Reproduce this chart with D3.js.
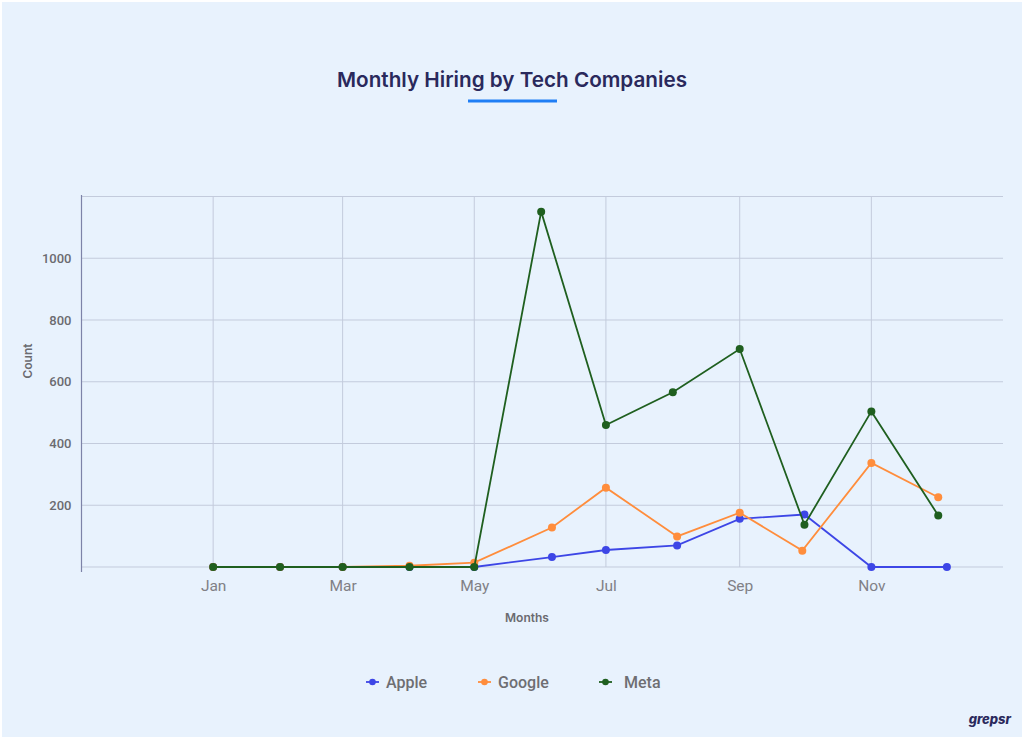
<!DOCTYPE html>
<html>
<head>
<meta charset="utf-8">
<script src="https://cdn.jsdelivr.net/npm/d3@7"></script>
<style>
  html, body { margin: 0; padding: 0; background: #fff; }
  svg { display: block; font-family: Inter, "Noto Sans", sans-serif; }
</style>
</head>
<body>
<svg width="1024" height="739"></svg>
<script>
// dates where each series has a point
var metaDates = ["2024-01-01", "2024-02-01", "2024-03-01", "2024-04-01", "2024-05-01", "2024-06-01",
                 "2024-07-01", "2024-08-01", "2024-09-01", "2024-10-01", "2024-11-01", "2024-12-02"];
var googleDates = ["2024-01-01", "2024-02-01", "2024-03-01", "2024-04-01", "2024-05-01", "2024-06-06",
                   "2024-07-01", "2024-08-03", "2024-09-01", "2024-09-30", "2024-11-01", "2024-12-02"];
var appleDates = ["2024-01-01", "2024-02-01", "2024-03-01", "2024-04-01", "2024-05-01", "2024-06-06",
                  "2024-07-01", "2024-08-03", "2024-09-01", "2024-10-01", "2024-11-01", "2024-12-06"];

var appleValues  = [0, 0, 0, 0, 0, 32, 55, 70, 156, 170, 0, 0];
var googleValues = [0, 0, 0, 4, 14, 128, 257, 99, 176, 53, 337, 226];
var metaValues   = [0, 0, 0, 0, 0, 1151, 460, 566, 706, 137, 504, 167];

var seriesNames = ["Apple", "Google", "Meta"];
var xTickDates = ["2024-01-01", "2024-03-01", "2024-05-01", "2024-07-01", "2024-09-01", "2024-11-01"];
var yTicks = [0, 200, 400, 600, 800, 1000, 1200];

var colors = {Apple: "#3d46e6", Google: "#ff8d3c", Meta: "#1f5f1f"};

var parseDate = d3.timeParse("%Y-%m-%d");

var svg = d3.select("svg"),
    margin = {top: 196.5, right: 21, bottom: 172, left: 81.5},
    width = +svg.attr("width") - margin.left - margin.right,
    height = +svg.attr("height") - margin.top - margin.bottom;

// background
svg.append("rect")
    .attr("x", 2).attr("y", 2)
    .attr("width", 1020).attr("height", 735)
    .attr("fill", "#e8f2fd");

// title + underline
svg.append("text")
    .attr("x", 512).attr("y", 87)
    .attr("text-anchor", "middle")
    .style("font-size", "20.7px")
    .style("font-weight", 600)
    .style("fill", "#2a295c")
    .text("Monthly Hiring by Tech Companies");

svg.append("rect")
    .attr("x", 468).attr("y", 99.5)
    .attr("width", 89).attr("height", 3)
    .attr("fill", "#1f7ef5");

var x = d3.scaleTime()
    .domain([parseDate("2023-11-01"), parseDate("2025-01-01")])
    .range([0, width]);
var y = d3.scaleLinear().domain([0, 1200]).range([height, 0]);

var g = svg.append("g")
    .attr("transform", "translate(" + margin.left + "," + margin.top + ")");

// grid
g.append("g")
    .selectAll("line")
    .data(yTicks)
    .enter().append("line")
    .attr("x1", 0).attr("x2", width)
    .attr("y1", function(d) { return y(d); })
    .attr("y2", function(d) { return y(d); })
    .attr("stroke", "#c3cbdc")
    .attr("stroke-width", 1);

g.append("g")
    .selectAll("line")
    .data(xTickDates.map(parseDate))
    .enter().append("line")
    .attr("x1", function(d) { return x(d); })
    .attr("x2", function(d) { return x(d); })
    .attr("y1", 0).attr("y2", height)
    .attr("stroke", "#c3cbdc")
    .attr("stroke-width", 1);

// x axis labels
var xAxis = d3.axisBottom(x)
    .tickValues(xTickDates.map(parseDate))
    .tickFormat(d3.timeFormat("%b"))
    .tickSize(0)
    .tickPadding(13);

var gx = g.append("g")
    .attr("transform", "translate(0," + height + ")")
    .call(xAxis);
gx.select(".domain").remove();
gx.selectAll("text")
    .style("font-family", "Roboto, 'Noto Sans', sans-serif")
    .style("font-size", "15.5px")
    .style("fill", "#808086");

// y axis
var yAxis = d3.axisLeft(y)
    .tickValues(yTicks)
    .tickFormat(function(d) { return (d === 0 || d === 1200) ? "" : d; })
    .tickSize(0)
    .tickPadding(10);

var gy = g.append("g").call(yAxis);
gy.select(".domain").remove();
gy.selectAll("text")
    .style("font-family", "Roboto, 'Noto Sans', sans-serif")
    .style("font-size", "13px")
    .style("font-weight", 500)
    .style("fill", "#6b6b70");

g.append("line")
    .attr("x1", 0).attr("x2", 0)
    .attr("y1", -1.5).attr("y2", height + 5)
    .attr("stroke", "#7d83a8")
    .attr("stroke-width", 1.2);

// axis titles
svg.append("text")
    .attr("transform", "translate(32,361) rotate(-90)")
    .attr("text-anchor", "middle")
    .style("font-size", "12px")
    .style("font-weight", 600)
    .style("fill", "#6b6b70")
    .text("Count");

svg.append("text")
    .attr("x", 527).attr("y", 622)
    .attr("text-anchor", "middle")
    .style("font-size", "12px")
    .style("font-weight", 600)
    .style("fill", "#6b6b70")
    .text("Months");

// series
var series = [
  {name: "Apple", dates: appleDates, values: appleValues},
  {name: "Google", dates: googleDates, values: googleValues},
  {name: "Meta", dates: metaDates, values: metaValues}
];
series.forEach(function(s) {
  s.points = s.dates.map(function(d, i) { return {date: parseDate(d), value: s.values[i]}; });
});

var line = d3.line()
    .x(function(d) { return x(d.date); })
    .y(function(d) { return y(d.value); });

var sg = g.selectAll(".series")
    .data(series)
    .enter().append("g")
    .attr("class", "series");

sg.append("path")
    .attr("d", function(d) { return line(d.points); })
    .attr("fill", "none")
    .attr("stroke", function(d) { return colors[d.name]; })
    .attr("stroke-width", 1.8);

sg.selectAll("circle")
    .data(function(d) { return d.points.map(function(p) { return {p: p, name: d.name}; }); })
    .enter().append("circle")
    .attr("cx", function(d) { return x(d.p.date); })
    .attr("cy", function(d) { return y(d.p.value); })
    .attr("r", 4)
    .attr("fill", function(d) { return colors[d.name]; });

// legend
var legendX = [366, 478, 599];
var legendTextX = [20, 20, 25];
var legend = svg.append("g").selectAll("g")
    .data(seriesNames)
    .enter().append("g")
    .attr("transform", function(d, i) { return "translate(" + legendX[i] + ",682)"; });

legend.append("line")
    .attr("x1", 0).attr("x2", 13)
    .attr("stroke", function(d) { return colors[d]; })
    .attr("stroke-width", 1.8);
legend.append("circle")
    .attr("cx", 6.5).attr("r", 3.3)
    .attr("fill", function(d) { return colors[d]; });
legend.append("text")
    .attr("x", function(d, i) { return legendTextX[i]; })
    .attr("y", 5.5)
    .style("font-family", "Roboto, 'Noto Sans', sans-serif")
    .style("font-size", "16px")
    .style("font-weight", 500)
    .style("fill", "#6e6e72")
    .text(function(d) { return d; });

// brand mark
svg.append("text")
    .attr("x", 1011).attr("y", 724)
    .attr("text-anchor", "end")
    .style("font-size", "13px")
    .style("font-weight", 800)
    .style("font-style", "italic")
    .style("fill", "#2a295c")
    .text("grepsr");
</script>
</body>
</html>
